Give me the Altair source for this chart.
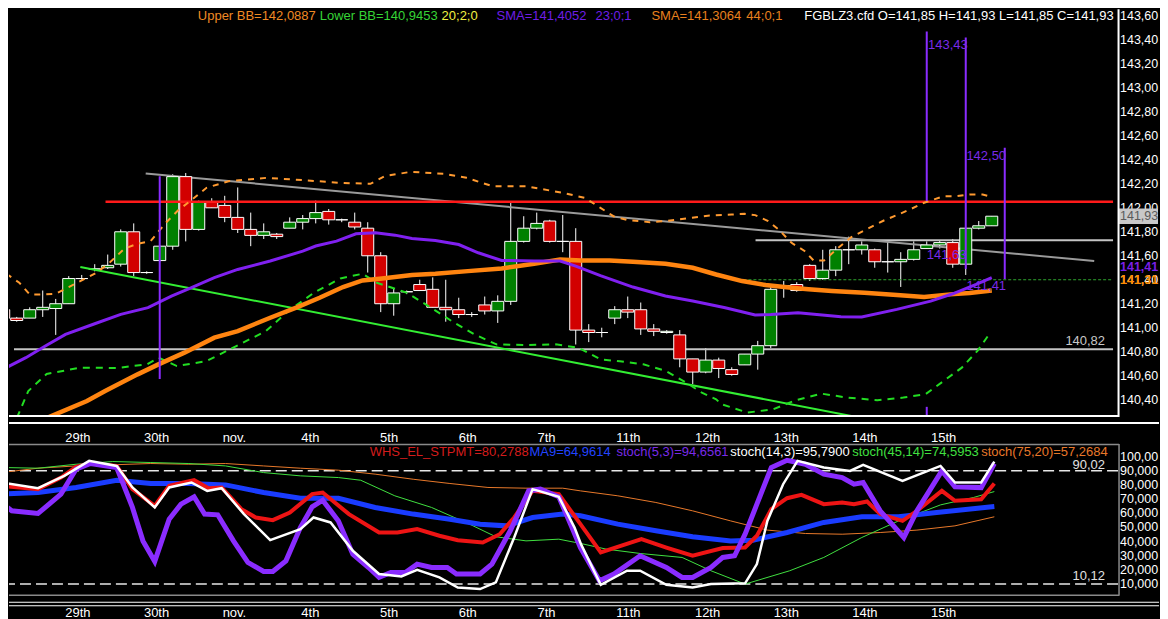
import altair as alt
import pandas as pd

FONT = "Liberation Sans"

# ---------------- candles (4h bars), index i ----------------
cdl_i = list(range(1, 78))
cdl_o = [141.15, 141.08, 141.08, 141.15, 141.16, 141.20, 141.41, 141.49, 141.50, 141.53,
         141.80, 141.46, 141.56, 141.68, 142.26, 141.82, 142.05, 142.02, 141.92, 141.82,
         141.77, 141.78, 141.83, 141.88, 141.91, 141.97, 141.90, 141.88, 141.83, 141.60,
         141.20, 141.30, 141.36, 141.32, 141.17, 141.15, 141.11, 141.19, 141.14, 141.22,
         141.72, 141.83, 141.89, 141.72, 141.72, 140.98, 140.96, 141.08, 141.15, 141.15,
         140.99, 140.96, 140.94, 140.74, 140.63, 140.73, 140.65, 140.69, 140.78, 140.85,
         141.35, 141.36, 141.52, 141.41, 141.48, 141.65, 141.65, 141.65, 141.55, 141.55,
         141.57, 141.66, 141.69, 141.71, 141.53, 141.83, 141.85]
cdl_h = [141.17, 141.09, 141.17, 141.31, 141.24, 141.43, 141.44, 141.53, 141.61, 141.82,
         141.87, 141.47, 141.69, 142.28, 142.29, 142.06, 142.08, 142.10, 142.17, 141.96,
         141.87, 141.79, 141.92, 141.94, 142.06, 141.99, 141.91, 141.96, 141.88, 141.63,
         141.33, 141.31, 141.40, 141.42, 141.40, 141.25, 141.13, 141.26, 141.27, 142.04,
         141.93, 141.96, 141.90, 141.94, 141.83, 141.03, 141.00, 141.18, 141.26, 141.21,
         141.03, 140.98, 140.98, 140.74, 140.83, 140.75, 140.67, 140.78, 140.89, 141.34,
         141.39, 141.38, 141.53, 141.65, 141.68, 141.76, 141.72, 141.66, 141.72, 141.63,
         141.72, 141.72, 141.73, 141.74, 141.83, 141.89, 141.93]
cdl_l = [141.06, 141.05, 141.08, 141.09, 140.94, 141.20, 141.40, 141.47, 141.49, 141.51,
         141.43, 141.45, 141.55, 141.65, 141.72, 141.81, 142.00, 141.88, 141.79, 141.68,
         141.74, 141.74, 141.83, 141.82, 141.87, 141.86, 141.88, 141.82, 141.46, 141.13,
         141.10, 141.28, 141.31, 141.17, 141.05, 141.08, 141.09, 141.11, 141.04, 141.19,
         141.71, 141.82, 141.71, 141.63, 140.86, 140.88, 140.92, 141.03, 141.08, 140.94,
         140.93, 140.95, 140.67, 140.53, 140.62, 140.58, 140.60, 140.69, 140.65, 140.83,
         141.25, 141.30, 141.39, 141.40, 141.43, 141.53, 141.61, 141.50, 141.46, 141.34,
         141.56, 141.66, 141.66, 141.50, 141.44, 141.82, 141.85]
cdl_c = [141.08, 141.06, 141.15, 141.17, 141.20, 141.41, 141.41, 141.49, 141.52, 141.80,
         141.46, 141.46, 141.68, 142.26, 141.82, 142.05, 142.00, 141.92, 141.82, 141.77,
         141.80, 141.76, 141.88, 141.91, 141.96, 141.90, 141.90, 141.84, 141.60, 141.20,
         141.29, 141.30, 141.31, 141.17, 141.15, 141.11, 141.11, 141.14, 141.22, 141.72,
         141.83, 141.87, 141.72, 141.72, 140.98, 140.96, 140.96, 141.15, 141.13, 140.99,
         140.97, 140.97, 140.74, 140.63, 140.73, 140.66, 140.61, 140.78, 140.85, 141.32,
         141.35, 141.31, 141.41, 141.48, 141.65, 141.65, 141.69, 141.55, 141.55, 141.57,
         141.65, 141.69, 141.71, 141.53, 141.83, 141.85, 141.93]

# ---------------- main-panel indicators ----------------
sma23_i = [1.2, 2.7, 4.2, 5.75, 8, 10, 12.1, 13.9, 15.4, 17.2, 19, 21.5, 24, 25, 26.6, 28.1,
           29.6, 31.1, 32.4, 34.2, 36, 37.5, 39.3, 41.8, 43.8, 45, 46.9, 49.4, 51.9, 54, 56.5,
           58.8, 60, 62.1, 65.4, 67, 69.7, 72.3, 74, 75.8, 77]
sma23_v = [140.667, 140.75, 140.847, 140.944, 141.033, 141.111, 141.167, 141.264, 141.333,
           141.417, 141.486, 141.556, 141.639, 141.681, 141.722, 141.783, 141.792, 141.772,
           141.744, 141.728, 141.694, 141.625, 141.561, 141.556, 141.556, 141.514, 141.435,
           141.339, 141.264, 141.222, 141.167, 141.106, 141.11, 141.125, 141.092, 141.089,
           141.153, 141.222, 141.283, 141.361, 141.417]

sma44_i = [3.5, 7.4, 8.8, 11.3, 12.9, 14.9, 17.2, 19, 21.5, 23.5, 25.3, 27.1, 28.6, 30.1, 32.4,
           34.2, 36.7, 39.3, 41.8, 43.8, 45.4, 47.6, 49.4, 51.9, 54, 55.8, 57.8, 59.6, 61.6,
           62.9, 64.7, 67.2, 69.7, 71.8, 73.8, 75.3, 77]
sma44_v = [140.21, 140.389, 140.472, 140.611, 140.694, 140.792, 140.917, 140.972, 141.083,
           141.167, 141.25, 141.339, 141.394, 141.411, 141.439, 141.45, 141.472, 141.494,
           141.533, 141.569, 141.561, 141.561, 141.55, 141.533, 141.5, 141.444, 141.389,
           141.356, 141.333, 141.32, 141.306, 141.292, 141.272, 141.256, 141.278, 141.289,
           141.311]

ubb_i = [1.2, 2.2, 3.0, 4, 5, 6, 7, 8, 9, 10.3, 11.3, 12.3, 13.4, 14.4, 15.4, 16.6, 18.3, 21.2,
         24, 26.9, 29.2, 30.3, 32.3, 34.9, 36.6, 38.6, 41.2, 44, 45.7, 46.9, 47.9, 48.9, 50.7,
         51.9, 53.5, 55.3, 57, 58, 58.8, 59.8, 60.6, 61.6, 62.6, 63.3, 64.1, 65.2, 66.2, 67.2,
         68.7, 69.7, 70.7, 71.8, 73.3, 74.3, 75.3, 76.3, 77]
ubb_v = [141.45, 141.375, 141.278, 141.278, 141.283, 141.339, 141.394, 141.45, 141.528,
         141.661, 141.70, 141.722, 141.867, 141.978, 142.061, 142.167, 142.222, 142.25,
         142.231, 142.208, 142.2, 142.264, 142.3, 142.283, 142.25, 142.18, 142.18, 142.125,
         142.083, 142.0, 141.93, 141.9, 141.88, 141.889, 141.911, 141.936, 141.944, 141.95,
         141.939, 141.889, 141.82, 141.708, 141.64, 141.56, 141.56, 141.667, 141.756,
         141.811, 141.894, 141.939, 141.986, 142.042, 142.097, 142.097, 142.111, 142.111,
         142.089]

lbb_i = [1.6, 2.02, 2.89, 4.3, 6.89, 9.71, 12.03, 12.91, 14.32, 16.6, 18.89, 21.17, 22.89,
         24.87, 26.9, 28.6, 29.7, 32.0, 33.45, 35.45, 37.2, 38.9, 41.2, 43.45, 45.2, 46.9,
         48.4, 50.2, 51.9, 53.5, 54.7, 55.8, 56.2, 58.2, 60.2, 61.9, 63.9, 65.9, 68.2, 70.2,
         71.9, 73.3, 74.7, 75.9, 76.8]
lbb_v = [140.15, 140.25, 140.472, 140.614, 140.667, 140.664, 140.695, 140.75, 140.68, 140.722,
         140.847, 140.972, 141.139, 141.292, 141.411, 141.45, 141.375, 141.292, 141.195,
         141.056, 140.945, 140.861, 140.855, 140.861, 140.833, 140.736, 140.72, 140.695,
         140.64, 140.542, 140.458, 140.403, 140.362, 140.292, 140.32, 140.395, 140.45,
         140.417, 140.395, 140.417, 140.445, 140.556, 140.667, 140.806, 140.945]

# drawn objects: [from_i, to_i] and [from_price, to_price]
grey_x1 = [1.79, 58.83, 11.92]
grey_x2 = [86.33, 86.33, 84.88]
grey_y1 = [140.82, 141.73, 142.287]
grey_y2 = [140.82, 141.73, 141.556]
red_x1, red_x2, red_y = [8.83], [86.33], [142.05]
gtr_x1, gtr_x2, gtr_y1, gtr_y2 = [6.89], [70.0], [141.506], [140.184]
gdot_x1, gdot_x2, gdot_y = [57.9], [86.33], [141.40]
pv_i = [13, 72, 72, 75, 78]
pv_top = [142.264, 143.47, 140.34, 143.42, 142.50]
pv_bot = [140.572, 142.056, 140.256, 141.49, 141.406]
ann_txt = ["143,43", "142,50", "141,63", "141,41"]
ann_i = [72.1, 75.05, 72.0, 75.05]
ann_p = [143.36, 142.43, 141.61, 141.35]

price_ticks = [140.4, 140.6, 140.8, 141.0, 141.2, 141.4, 141.6, 141.8, 142.0, 142.2, 142.4,
               142.6, 142.8, 143.0, 143.2, 143.4, 143.6]
price_tick_lbl = ["140,40", "140,60", "140,80", "141,00", "141,20", "141,40", "141,60",
                  "141,80", "142,00", "142,20", "142,40", "142,60", "142,80", "143,00",
                  "143,20", "143,40", "143,60"]

day_idx = [6, 12, 18, 24, 30, 36, 42, 48, 54, 60, 66, 72]
day_lbl = ["29th", "30th", "nov.", "4th", "5th", "6th", "7th", "11th", "12th", "13th", "14th", "15th"]

# ---------------- lower panel oscillators ----------------
wht_i = [1.18, 4.0, 6.0, 7.9, 10.0, 11.2, 12.9, 14.0, 15.7, 16.9, 18, 19.7, 21.7, 24.0, 25, 26.3,
         28, 30, 31.7, 32.9, 34.6, 36, 37.7, 38.9, 40.3, 41.7, 43.7, 44.9, 45.4, 46.9, 48.9,
         49.9, 51.9, 53.9, 55.3, 57.9, 58.8, 59.6, 60.8, 61.9, 63.9, 65.9, 66.9, 69.9, 72.8,
         73.9, 75.9, 76.9]
wht_v = [81.7, 77.7, 86.4, 97, 93.4, 78.2, 64.1, 78.2, 81.7, 75.8, 77.7, 59.4, 41.0, 48.8, 57,
         53.5, 33.5, 17.1, 15.4, 20.1, 14.7, 7.6, 6.5, 11.2, 42.9, 77.0, 71.6, 49.9, 38.0, 9.5,
         19.4, 19.4, 9.5, 7.6, 10.0, 10.5, 24.1, 54.6, 80.5, 97.0, 92.3, 89.9, 94.2, 82.9,
         93.4, 81.7, 81.7, 96.5]
pur_i = [1.18, 2.0, 4.0, 5.75, 6.9, 8.0, 10.0, 11.2, 12.0, 12.9, 14.0, 14.9, 15.9, 16.7, 17.7,
         18.9, 20.0, 21.2, 21.9, 22.9, 24.0, 24.9, 25.7, 26.9, 28, 29.2, 30, 30.9, 32, 32.9, 34,
         35.2, 35.9, 37.7, 38.6, 40, 41.4, 42.3, 43.7, 44.6, 45.35, 46.8, 47.9, 49.9, 51.9,
         53.1, 53.9, 55.3, 56.2, 57.1, 57.9, 58.8, 59.9, 61.1, 62.5, 63.9, 65.3, 66.2, 66.9,
         68.2, 70.0, 71.0, 72.9, 73.9, 75.9, 76.9]
pur_v = [67.6, 61.7, 59.8, 73.5, 91.1, 95.1, 92.3, 64.1, 40.5, 26.0, 55.8, 66.4, 71.6, 59.4,
         58.9, 40.5, 25.3, 18.9, 18.9, 26.4, 49.9, 64.5, 69.2, 54.6, 31.1, 21.7, 14.7, 18.2,
         18.2, 24.1, 21.7, 21.7, 17.1, 17.1, 24.1, 47.6, 75.8, 77.0, 71.6, 52.3, 35.8, 12.3,
         17.1, 30.0, 21.7, 14.7, 14.7, 21.7, 28.8, 30.0, 45.2, 66.4, 92.3, 97.4, 94.6, 87.6,
         85.2, 80.5, 81.7, 61.7, 42.9, 61.7, 89.9, 78.6, 78.1, 95.1]
red_i = [1.18, 4.0, 5.75, 6.9, 8.0, 10.0, 11.2, 12.9, 14.0, 15.9, 17.0, 18, 19.5, 20.6, 21.9,
         23.2, 24.9, 25.7, 27.7, 30, 31.4, 32.9, 34.6, 36, 37.9, 39.2, 40.3, 41.7, 43.7, 45.35,
         46.9, 50, 51.9, 53.9, 56.2, 57.9, 58.8, 59.9, 61.1, 62.2, 63.9, 65.3, 66.2, 67.2, 68.2,
         69.9, 71.0, 72.9, 73.9, 75.9, 76.9]
red_v = [79.3, 77.0, 85.2, 92.7, 95.1, 93.4, 77.0, 65.2, 79.3, 83.3, 77.7, 78.2, 62.9, 57.0,
         55.1, 60.5, 73.5, 74.6, 59.4, 46.4, 46.4, 48.8, 44.1, 41.0, 39.4, 45.2, 57.0, 75.8,
         73.5, 52.3, 32.3, 41.7, 35.8, 30.0, 35.4, 35.8, 44.1, 62.9, 70.6, 73.0, 66.4, 67.6,
         66.4, 68.3, 59.4, 54.6, 61.7, 75.8, 68.8, 69.9, 81.0]
blu_i = [1.18, 4.0, 6.9, 10.0, 12.6, 15.5, 18.3, 21.2, 24, 26.9, 29.7, 32.6, 35.4, 37.7, 39.7,
         41.7, 44, 45.35, 48.2, 51.1, 53.9, 56.8, 58.5, 61.1, 63.9, 66.8, 69.6, 72.5, 76.9]
blu_v = [73.5, 74.6, 78.2, 83.3, 81.0, 81.0, 80.0, 74.6, 70.6, 70.6, 64.1, 59.4, 55.8, 52.3,
         51.1, 57.0, 59.4, 58.2, 52.3, 47.6, 43.4, 40.5, 41.0, 46.4, 53.5, 57.5, 57.5, 60.5, 64.8]
grn_i = [1.18, 4, 6.9, 9.7, 12.6, 15.5, 18.3, 21.2, 24, 26.9, 28.6, 31.2, 34, 36.9, 38.9, 41.2,
         43.7, 45.35, 47.3, 49.9, 53.1, 55.3, 57.9, 61.3, 63.9, 66.8, 69.6, 72.8, 75.3, 76.9]
grn_v = [92.3, 91.8, 94.6, 96.5, 95.8, 95.1, 93.4, 88.7, 86.4, 85.2, 83.3, 72.3, 64.1, 52.3,
         43.4, 40.5, 41.7, 38.7, 34.7, 31.6, 28.8, 19.4, 10.0, 19.4, 28.8, 42.9, 54.6, 65.9,
         71.1, 75.3]
org_i = [1.18, 4.0, 6.9, 9.7, 12.6, 15.5, 18.3, 21.2, 24, 26.9, 29.7, 32.6, 35.4, 38.3, 41.2,
         44, 45.35, 48.2, 51.1, 53.9, 56.8, 59.6, 62.5, 65.3, 68.2, 71.0, 73.9, 76.9]
org_v = [88.7, 91.8, 93.4, 94.2, 95.1, 94.6, 95.1, 93.4, 91.8, 90.4, 87.6, 84.0, 81.0, 78.2,
         77.7, 77.7, 75.8, 72.3, 67.6, 61.7, 54.6, 48.1, 45.7, 45.2, 46.4, 48.1, 51.1, 57.5]
osc_ticks = [10, 20, 30, 40, 50, 60, 70, 80, 90, 100]
osc_tick_lbl = ["10,0000", "20,0000", "30,0000", "40,0000", "50,0000", "60,0000", "70,0000",
                "80,0000", "90,0000", "100,000"]
osc_levels = [90.02, 10.12]

# ---------------- layout ----------------
W = 1110          # plot width of every panel
RMAX = 1151       # right-most drawable x (keeps the page from overflowing)
LX = W + 2        # left edge of the right-hand labels
HA, HB, HC, HD = 408, 27, 152, 24
xs = alt.Scale(domain=[1.79, 86.33], nice=False, zero=False)
ysm = alt.Scale(domain=[140.256, 143.656], nice=False, zero=False)
ysl = alt.Scale(domain=[1.76, 108.96], nice=False, zero=False)
GRID = "#7c7c7c"
ZW = "\u200b"


def X(f):
    return alt.X(f, type="quantitative", scale=xs, axis=None)


def YM(f):
    return alt.Y(f, type="quantitative", scale=ysm, axis=None)


def YL(f):
    return alt.Y(f, type="quantitative", scale=ysl, axis=None)


def series(ix, vals, scale, color, width, dash=None):
    df = pd.DataFrame({"i": ix, "v": vals})
    kw = dict(color=color, strokeWidth=width, clip=True)
    if dash:
        kw["strokeDash"] = dash
    return alt.Chart(df).mark_line(**kw).encode(
        x=X("i"), y=alt.Y("v:Q", scale=scale, axis=None))


one = pd.DataFrame({"k": [0]})


def txt(s, px, py, color, size=13, align="left", weight="normal"):
    return alt.Chart(pd.DataFrame({"t": [s]})).mark_text(
        align=align, baseline="middle", color=color, font=FONT, fontSize=size,
        fontWeight=weight).encode(x=alt.value(px), y=alt.value(py), text="t:N")


def frame(color, width, **enc):
    return alt.Chart(one).mark_rule(color=color, strokeWidth=width).encode(**enc)


def right_labels(vals, labels, yenc, size=12.5, color="white", weight="normal"):
    return alt.Chart(pd.DataFrame({"v": vals, "t": labels})).mark_text(
        align="left", baseline="middle", color=color, font=FONT, fontSize=size,
        fontWeight=weight, limit=RMAX - LX, ellipsis=ZW).encode(
        x=alt.value(LX), y=yenc("v"), text="t:N")


cdf = pd.DataFrame({"i": cdl_i, "o": cdl_o, "h": cdl_h, "l": cdl_l, "c": cdl_c})

wick = alt.Chart(cdf).mark_rule(color="white", strokeWidth=1, clip=True).encode(
    x=alt.X("i:Q", scale=xs, axis=alt.Axis(
        values=day_idx, grid=True, gridColor=GRID, gridDash=[3, 3], gridWidth=1,
        labels=False, ticks=False, domain=False, title=None)),
    y=alt.Y("l:Q", scale=ysm, axis=alt.Axis(
        orient="right", values=price_ticks, grid=True, gridColor=GRID, gridDash=[3, 3],
        gridWidth=1, labels=False, ticks=False, domain=False, title=None)),
    y2="h:Q",
)
body = alt.Chart(cdf).mark_bar(size=12, stroke="white", strokeWidth=1, clip=True).encode(
    x=X("i"), y=YM("o"), y2="c:Q",
    fill=alt.condition("datum.c >= datum.o", alt.value("#008000"), alt.value("#d20000")),
)


def hrule(x1, x2, y, color, width, dash=None):
    df = pd.DataFrame({"x1": x1, "x2": x2, "y": y})
    kw = dict(color=color, strokeWidth=width, clip=True)
    if dash:
        kw["strokeDash"] = dash
    return alt.Chart(df).mark_rule(**kw).encode(x=X("x1"), x2="x2:Q", y=YM("y"))


def tline(x1, x2, y1, y2, color, width):
    df = pd.DataFrame({"x": x1 + x2, "y": y1 + y2})
    return alt.Chart(df).mark_line(color=color, strokeWidth=width, clip=True).encode(
        x=X("x"), y=YM("y"))


grey_h = hrule(grey_x1[:2], grey_x2[:2], grey_y1[:2], "#c4c4c4", 2)
grey_t = tline(grey_x1[2:], grey_x2[2:], grey_y1[2:], grey_y2[2:], "#9a9a9a", 2)
red_h = hrule(red_x1, red_x2, red_y, "#ff1a1a", 2.5)
gdot = hrule(gdot_x1, gdot_x2, gdot_y, "#2fa52f", 1, [3, 2])
gtrend = tline(gtr_x1, gtr_x2, gtr_y1, gtr_y2, "#33ee33", 2)

ubb = series(ubb_i, ubb_v, ysm, "#ff9a30", 2, [6, 6])
lbb = series(lbb_i, lbb_v, ysm, "#22dd22", 2, [7, 6])
sma44 = series(sma44_i, sma44_v, ysm, "#ff8410", 4.5)
sma23 = series(sma23_i, sma23_v, ysm, "#8020f0", 3)

pvert = alt.Chart(pd.DataFrame({"i": pv_i, "a": pv_top, "b": pv_bot})).mark_rule(
    color="#8a2cff", strokeWidth=2, clip=True).encode(x=X("i"), y=YM("a"), y2="b:Q")
ann = alt.Chart(pd.DataFrame({"t": ann_txt, "i": ann_i, "p": ann_p})).mark_text(
    align="left", baseline="middle", color="#7a2ae8", font=FONT, fontSize=13).encode(
    x=X("i"), y=YM("p"), text="t:N")

plab = right_labels(price_ticks, price_tick_lbl, YM)

cur = pd.DataFrame({"p": [141.93], "t": ["141,93"]})
curbox = alt.Chart(cur).mark_point(
    shape="M-1,-0.4L1,-0.4L1,0.4L-1,0.4Z", size=1521, filled=True,
    color="#c8c8c8", opacity=1).encode(x=alt.value(W + 20.5), y=YM("p"))
curtxt = right_labels([141.93], ["141,93"], YM, color="#5a5a5a")
smatxt_p = right_labels([141.505], ["141,41"], YM, color="#7b1fe8", weight="bold")
smatxt_o = right_labels([141.40], ["141,31"], YM, color="#ff8c00", weight="bold")
lvl = alt.Chart(pd.DataFrame({"p": [140.89], "t": ["140,82"]})).mark_text(
    align="right", baseline="middle", color="#c8c8c8", font=FONT, fontSize=13).encode(
    x=alt.value(1097), y=YM("p"), text="t:N")

top_legend = [
    txt("Upper BB=142,0887", 189, 7, "#f08a24"),
    txt("Lower BB=140,9453", 311, 7, "#36d436"),
    txt("20;2;0", 433, 7, "#f0f040"),
    txt("SMA=141,4052", 488, 7, "#6f1ee6"),
    txt("23;0;1", 587, 7, "#6f1ee6"),
    txt("SMA=141,3064", 643, 7, "#e8801e"),
    txt("44;0;1", 738, 7, "#e8801e"),
    txt("FGBLZ3.cfd O=141,85 H=141,93 L=141,85 C=141,93", 796, 7, "white"),
]

panelA = alt.layer(
    wick, grey_h, grey_t, body, red_h, gdot, gtrend, ubb, lbb, sma44, sma23, pvert, ann,
    lvl, plab, curbox, curtxt, smatxt_p, smatxt_o, *top_legend,
    frame("white", 2, x=alt.value(W + 0.5), y=alt.value(0), y2=alt.value(HA)),
    frame("white", 2, x=alt.value(0), x2=alt.value(W + 1), y=alt.value(HA - 1)),
).properties(width=W, height=HA)

days = pd.DataFrame({"i": day_idx, "t": day_lbl})


def day_text(py):
    return alt.Chart(days).mark_text(align="left", baseline="middle", dx=1, color="white",
                                     font=FONT, fontSize=13).encode(
        x=X("i"), y=alt.value(py), text="t:N")


panelB = alt.layer(
    day_text(21),
    frame("white", 2, x=alt.value(0), x2=alt.value(RMAX), y=alt.value(6)),
).properties(width=W, height=HB)

# lower panel: grid carrier (invisible rule inside the plot)
gridlow = alt.Chart(pd.DataFrame({"i": [40], "v": [50], "v2": [60]})).mark_rule(
    strokeOpacity=0).encode(
    x=alt.X("i:Q", scale=xs, axis=alt.Axis(
        values=day_idx, grid=True, gridColor=GRID, gridDash=[3, 3], gridWidth=1,
        labels=False, ticks=False, domain=False, title=None)),
    y=alt.Y("v:Q", scale=ysl, axis=alt.Axis(
        orient="right", values=osc_ticks, grid=True, gridColor=GRID, gridDash=[3, 3],
        gridWidth=1, labels=False, ticks=False, domain=False, title=None)),
    y2="v2:Q",
)
osclab = right_labels(osc_ticks, osc_tick_lbl, YL)
levels = alt.Chart(pd.DataFrame({"v": osc_levels})).mark_rule(
    color="#e8e8e8", strokeWidth=1.5, strokeDash=[11, 5]).encode(y=YL("v"))
lowleg = [
    txt("WHS_EL_STPMT=80,2788", 361, 8, "#d41c1c"),
    txt("MA9=64,9614", 521, 8, "#2244ff"),
    txt("stoch(5,3)=94,6561", 608, 8, "#7a2ae8"),
    txt("stoch(14,3)=95,7900", 722, 8, "white"),
    txt("stoch(45,14)=74,5953", 844, 8, "#40e040"),
    txt("stoch(75,20)=57,2684", 973, 8, "#e8782a"),
    txt("90,02", 1097, 21, "#e0e0e0", align="right"),
    txt("10,12", 1097, 132, "#e0e0e0", align="right"),
]
panelC = alt.layer(
    gridlow, levels,
    series(org_i, org_v, ysl, "#e8782a", 1),
    series(grn_i, grn_v, ysl, "#40e040", 1),
    series(blu_i, blu_v, ysl, "#1a3cff", 5),
    series(red_i, red_v, ysl, "#ee1414", 4),
    series(pur_i, pur_v, ysl, "#8a2cff", 5),
    series(wht_i, wht_v, ysl, "white", 2.5),
    osclab, *lowleg,
    frame("#8a8a8a", 1.5, x=alt.value(0), x2=alt.value(W + 1), y=alt.value(0.5)),
    frame("#8a8a8a", 1.5, x=alt.value(0), x2=alt.value(W + 1), y=alt.value(HC - 0.5)),
    frame("#8a8a8a", 1.5, x=alt.value(W + 1), y=alt.value(0), y2=alt.value(HC)),
).properties(width=W, height=HC)

panelD = alt.layer(
    day_text(17),
    frame("white", 1.2, x=alt.value(0), x2=alt.value(RMAX), y=alt.value(6.5)),
    frame("white", 1.2, x=alt.value(0), x2=alt.value(RMAX), y=alt.value(10)),
).properties(width=W, height=HD)

chart = alt.vconcat(panelA, panelB, panelC, panelD, spacing=0, bounds="flush").properties(
    padding=0
).configure(background="black", font=FONT).configure_view(strokeWidth=0)

chart.save("out.html", embed_options={"renderer": "svg", "actions": False})
